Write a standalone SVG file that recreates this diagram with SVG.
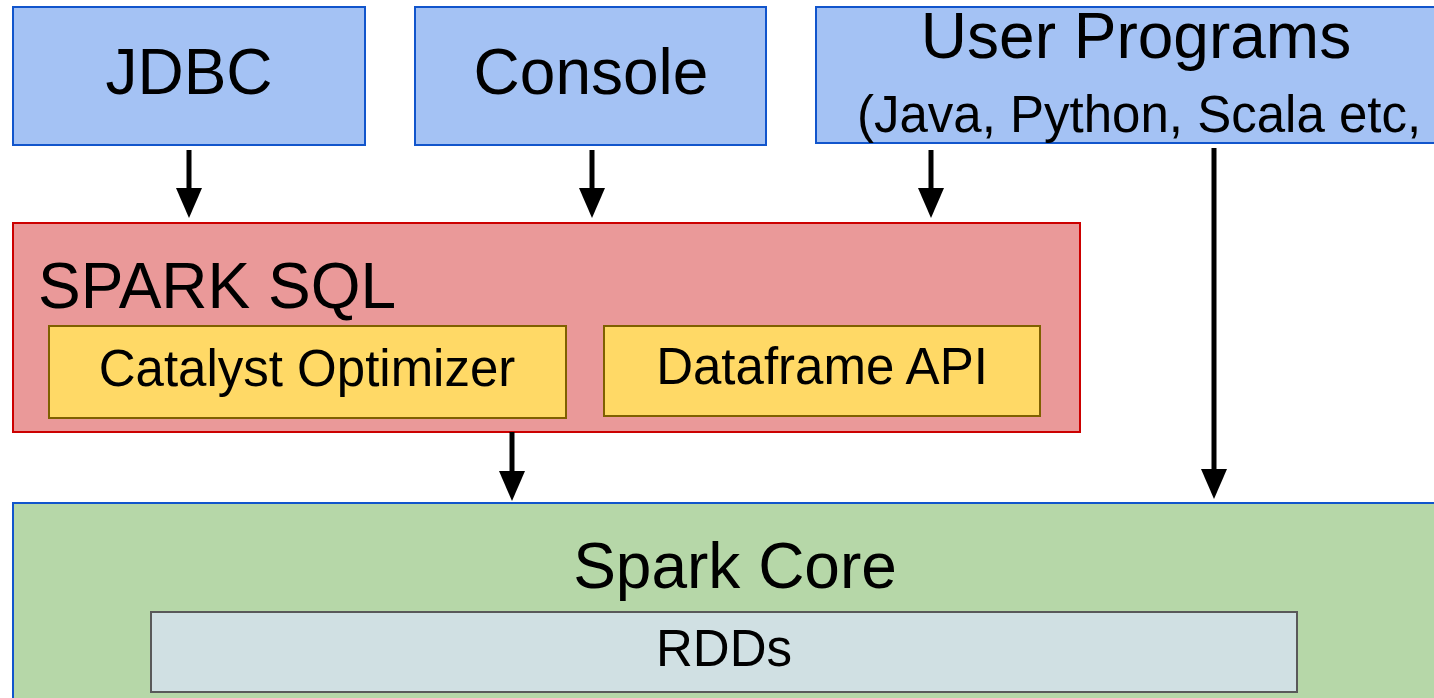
<svg xmlns="http://www.w3.org/2000/svg" width="1434" height="698" viewBox="0 0 1434 698">
<style>
text{font-family:"Liberation Sans",Arial,sans-serif;fill:#000}
.blue{fill:#a4c2f4;stroke:#1155cc;stroke-width:2}
.red{fill:#ea9999;stroke:#cc0000;stroke-width:2}
.yel{fill:#ffd966;stroke:#7f6000;stroke-width:2}
.grn{fill:#b6d7a8;stroke:#1155cc;stroke-width:2}
.gry{fill:#d0e0e3;stroke:#595959;stroke-width:2}
.big{font-size:64px}
.mid{font-size:51px}
.conn line{stroke:#000;stroke-width:5}
</style>
<rect width="1434" height="698" fill="#fff"/>
<g id="jdbc"><rect class="blue" x="13" y="7" width="352" height="138"/><text class="big" x="189" y="94" text-anchor="middle">JDBC</text></g>
<g id="console"><rect class="blue" x="415" y="7" width="351" height="138"/><text class="big" x="591" y="94" text-anchor="middle">Console</text></g>
<g id="user"><rect class="blue" x="816" y="7" width="630" height="136"/><text class="big" x="1136" y="58" text-anchor="middle">User Programs</text><text class="mid" x="857" y="132">(Java, Python, Scala etc,</text></g>
<g id="sparksql"><rect class="red" x="13" y="223" width="1067" height="209"/><text class="big" x="38" y="308">SPARK SQL</text></g>
<g id="catalyst"><rect class="yel" x="49" y="326" width="517" height="92"/><text class="mid" x="307" y="386" text-anchor="middle">Catalyst Optimizer</text></g>
<g id="dataframe"><rect class="yel" x="604" y="326" width="436" height="90"/><text class="mid" x="822" y="384" text-anchor="middle">Dataframe API</text></g>
<g id="core"><rect class="grn" x="13" y="503" width="1440" height="210"/><text class="big" x="735" y="588" text-anchor="middle">Spark Core</text></g>
<g id="rdds"><rect class="gry" x="151" y="612" width="1146" height="80"/><text class="mid" x="724" y="666" text-anchor="middle">RDDs</text></g>
<g class="conn">
<line x1="189" y1="150" x2="189" y2="190"/><path d="M176,188 L202,188 L189,218 Z"/>
<line x1="592" y1="150" x2="592" y2="190"/><path d="M579,188 L605,188 L592,218 Z"/>
<line x1="931" y1="150" x2="931" y2="190"/><path d="M918,188 L944,188 L931,218 Z"/>
<line x1="512" y1="432" x2="512" y2="473"/><path d="M499,471 L525,471 L512,501 Z"/>
<line x1="1214" y1="148" x2="1214" y2="471"/><path d="M1201,469 L1227,469 L1214,499 Z"/>
</g>
</svg>
